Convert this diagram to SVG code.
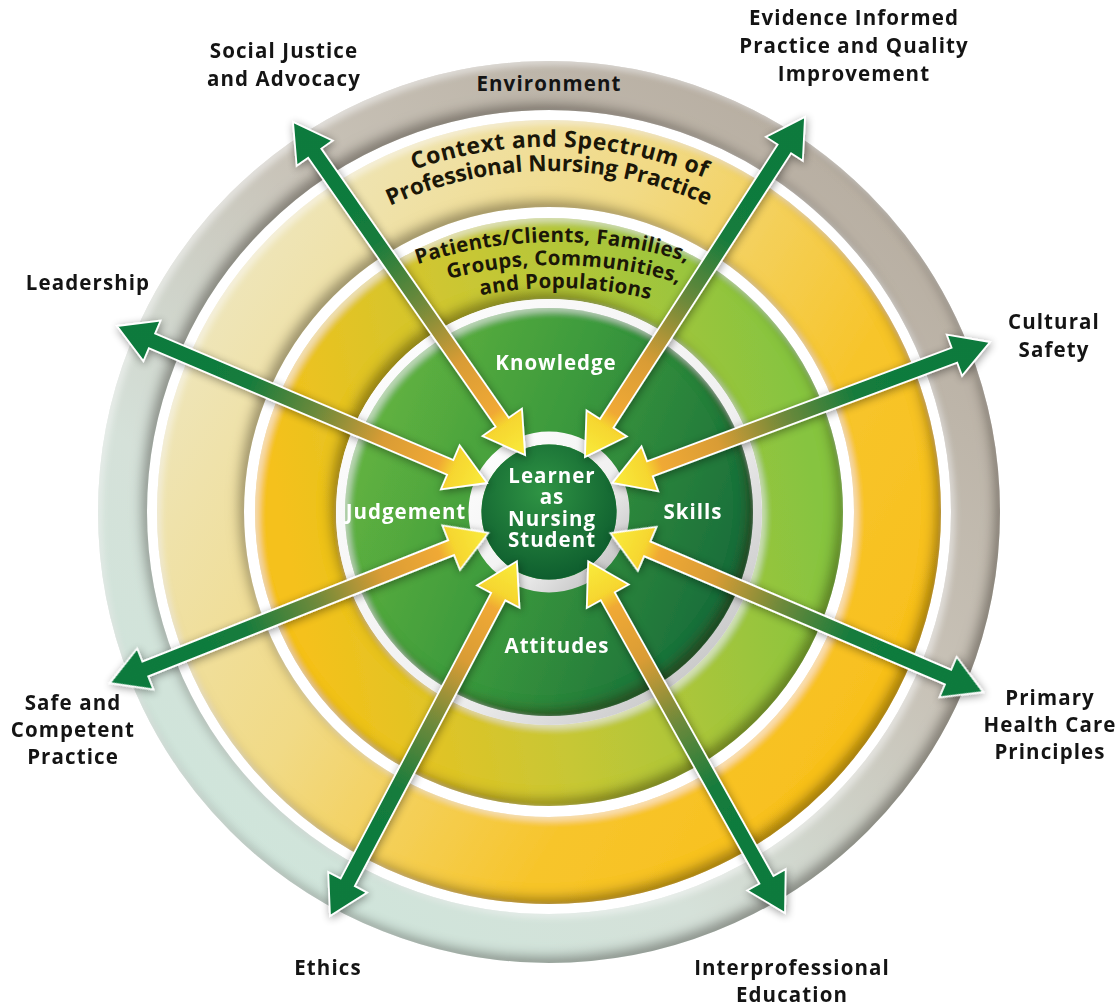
<svg xmlns="http://www.w3.org/2000/svg" width="1120" height="1007" viewBox="0 0 1120 1007">
<style>
.lbl{font-family:"Open Sans","Liberation Sans",sans-serif;font-weight:700;font-size:20.5px;letter-spacing:1.1px;fill:#141414;text-anchor:middle}
.wh{fill:#ffffff;letter-spacing:1px}
.ctx1{font-size:23px;fill:#1b1708;letter-spacing:0.5px}
.ctx2{font-size:22.5px;fill:#1b1708;letter-spacing:-0.1px}
.pat{font-size:20.5px;fill:#1b1708;letter-spacing:0.3px}
.arrow{fill:url(#arrowGrad);stroke:#ffffff;stroke-width:1.8;stroke-linejoin:miter}
</style>
<defs>
  <linearGradient id="envGrad" gradientUnits="userSpaceOnUse" x1="900" y1="90" x2="200" y2="930">
    <stop offset="0" stop-color="#b3a99c"/>
    <stop offset="0.4" stop-color="#c8c2b7"/>
    <stop offset="0.7" stop-color="#d5e1d9"/>
    <stop offset="1" stop-color="#cde6db"/>
  </linearGradient>
  <linearGradient id="ctxGrad" gradientUnits="userSpaceOnUse" x1="190" y1="300" x2="860" y2="720">
    <stop offset="0" stop-color="#eee6bd"/>
    <stop offset="0.4" stop-color="#f1da86"/>
    <stop offset="0.75" stop-color="#f7c52c"/>
    <stop offset="1" stop-color="#f8c01e"/>
  </linearGradient>
  <linearGradient id="patGrad" gradientUnits="userSpaceOnUse" x1="290" y1="560" x2="810" y2="460">
    <stop offset="0" stop-color="#f5c11a"/>
    <stop offset="0.45" stop-color="#c7c735"/>
    <stop offset="1" stop-color="#86c440"/>
  </linearGradient>
  <linearGradient id="coreGrad" gradientUnits="userSpaceOnUse" x1="345" y1="430" x2="753" y2="590">
    <stop offset="0" stop-color="#66b540"/>
    <stop offset="0.45" stop-color="#3c9a3c"/>
    <stop offset="1" stop-color="#15683a"/>
  </linearGradient>
  <radialGradient id="centerGrad" cx="0.45" cy="0.35" r="0.7">
    <stop offset="0" stop-color="#2f9444"/>
    <stop offset="1" stop-color="#0c5a2d"/>
  </radialGradient>
  <linearGradient id="rimGrad" x1="0" y1="0" x2="1" y2="1">
    <stop offset="0" stop-color="#ffffff"/>
    <stop offset="0.6" stop-color="#f0f0f0"/>
    <stop offset="1" stop-color="#b8b8b8"/>
  </linearGradient>
  <linearGradient id="arrowGrad" x1="0" y1="0" x2="1" y2="0">
    <stop offset="0" stop-color="#0b7a3e"/>
    <stop offset="0.35" stop-color="#137b3c"/>
    <stop offset="0.55" stop-color="#718a3a"/>
    <stop offset="0.72" stop-color="#d99c35"/>
    <stop offset="0.87" stop-color="#f0a934"/>
    <stop offset="0.91" stop-color="#f6d62f"/>
    <stop offset="1" stop-color="#f9ec3c"/>
  </linearGradient>
  <filter id="inset" x="-10%" y="-10%" width="120%" height="120%">
    <feComponentTransfer in="SourceAlpha" result="inv"><feFuncA type="table" tableValues="1 0"/></feComponentTransfer>
    <feOffset in="inv" dx="-6" dy="-7" result="off"/>
    <feGaussianBlur in="off" stdDeviation="6" result="blur"/>
    <feFlood flood-color="#2a1c00" flood-opacity="0.62"/>
    <feComposite operator="in" in2="blur" result="sh"/>
    <feComposite operator="in" in="sh" in2="SourceAlpha" result="inner"/>
    <feOffset in="inv" dx="4" dy="4" result="off2"/>
    <feGaussianBlur in="off2" stdDeviation="3" result="blur2"/>
    <feFlood flood-color="#ffffff" flood-opacity="0.45"/>
    <feComposite operator="in" in2="blur2" result="hl"/>
    <feComposite operator="in" in="hl" in2="SourceAlpha" result="hi"/>
    <feMerge><feMergeNode in="SourceGraphic"/><feMergeNode in="inner"/><feMergeNode in="hi"/></feMerge>
  </filter>
  <filter id="ashadow" x="-10%" y="-10%" width="120%" height="120%">
    <feGaussianBlur in="SourceAlpha" stdDeviation="4"/>
    <feOffset dx="1" dy="2"/>
    <feComponentTransfer><feFuncA type="linear" slope="0.4"/></feComponentTransfer>
    <feMerge><feMergeNode/><feMergeNode in="SourceGraphic"/></feMerge>
  </filter>
  <path id="c1" d="M288.0,241.8 A406,406 0 0 1 810.0,241.8" transform="rotate(1.6 549 550)"/>
  <path id="c2" d="M305.3,259.7 A379,379 0 0 1 792.7,259.7"/>
  <path id="p1" d="M335.5,301.1 A441,441 0 0 1 776.5,301.1" transform="rotate(-0.5 556 683)"/>
  <path id="p2" d="M347,321 A418,418 0 0 1 765,321" transform="rotate(1.1 556 683)"/>
  <path id="p3" d="M358.5,340.9 A395,395 0 0 1 753.5,340.9" transform="rotate(1.4 556 683)"/>
</defs>

<rect width="1120" height="1007" fill="#ffffff"/>

<g id="environment">
  <circle cx="549" cy="512" r="426.5" fill="none" stroke="url(#envGrad)" stroke-width="49" filter="url(#inset)"/>
  <text class="lbl" x="549" y="91">Environment</text>
</g>

<g id="context">
  <circle cx="549" cy="512" r="348.5" fill="none" stroke="url(#ctxGrad)" stroke-width="87" filter="url(#inset)"/>
  <text class="lbl ctx1"><textPath href="#c1" startOffset="50%">Context and Spectrum of</textPath></text>
  <text class="lbl ctx2"><textPath href="#c2" startOffset="50%">Professional Nursing Practice</textPath></text>
</g>

<g id="patients">
  <circle cx="549" cy="512" r="253.5" fill="none" stroke="url(#patGrad)" stroke-width="81" filter="url(#inset)"/>
  <text class="lbl pat"><textPath href="#p1" startOffset="50%">Patients/Clients, Families,</textPath></text>
  <text class="lbl pat"><textPath href="#p2" startOffset="50%">Groups, Communities,</textPath></text>
  <text class="lbl pat"><textPath href="#p3" startOffset="50%">and Populations</textPath></text>
</g>

<g id="core">
  <circle cx="549" cy="512" r="208.5" fill="none" stroke="url(#rimGrad)" stroke-width="9"/>
  <circle cx="549" cy="512" r="204" fill="url(#coreGrad)" filter="url(#inset)"/>
</g>

<g id="learner-disc">
  <circle cx="549" cy="512" r="74" fill="none" stroke="url(#rimGrad)" stroke-width="13"/>
  <circle cx="549" cy="512" r="67.5" fill="url(#centerGrad)"/>
</g>

<g id="connectors" filter="url(#ashadow)">
  <path class="arrow" transform="translate(293,122) rotate(55.13)" d="M0,0 L38,-22 L38,-8 L366,-8 L366,-24 L406,0 L366,24 L366,8 L38,8 L38,22 Z"/>
  <path class="arrow" transform="translate(805,117) rotate(122.91)" d="M0,0 L38,-22 L38,-8 L365,-8 L365,-24 L405,0 L365,24 L365,8 L38,8 L38,22 Z"/>
  <path class="arrow" transform="translate(117,326) rotate(22.99)" d="M0,0 L38,-22 L38,-8 L362,-8 L362,-24 L402,0 L362,24 L362,8 L38,8 L38,22 Z"/>
  <path class="arrow" transform="translate(990,342) rotate(159.54)" d="M0,0 L38,-22 L38,-8 L363,-8 L363,-24 L403,0 L363,24 L363,8 L38,8 L38,22 Z"/>
  <path class="arrow" transform="translate(110,683) rotate(-21.64)" d="M0,0 L38,-22 L38,-8 L367,-8 L367,-24 L407,0 L367,24 L367,8 L38,8 L38,22 Z"/>
  <path class="arrow" transform="translate(983,692) rotate(-156.91)" d="M0,0 L38,-22 L38,-8 L365,-8 L365,-24 L405,0 L365,24 L365,8 L38,8 L38,22 Z"/>
  <path class="arrow" transform="translate(330,916) rotate(-62.22)" d="M0,0 L38,-22 L38,-8 L361,-8 L361,-24 L401,0 L361,24 L361,8 L38,8 L38,22 Z"/>
  <path class="arrow" transform="translate(785,913) rotate(-119.23)" d="M0,0 L38,-22 L38,-8 L363,-8 L363,-24 L403,0 L363,24 L363,8 L38,8 L38,22 Z"/>
</g>

<g id="core-labels">
  <text class="lbl wh" x="556" y="370">Knowledge</text>
  <text class="lbl wh" x="406" y="519">Judgement</text>
  <text class="lbl wh" x="693" y="519">Skills</text>
  <text class="lbl wh" x="557" y="653">Attitudes</text>
</g>

<g id="learner">
  <text class="lbl wh" font-size="19" x="552" y="483">Learner</text>
  <text class="lbl wh" font-size="19" x="552" y="504">as</text>
  <text class="lbl wh" font-size="19" x="552" y="526">Nursing</text>
  <text class="lbl wh" font-size="19" x="552" y="547">Student</text>
</g>

<g id="social-justice"><text class="lbl" x="284" y="58">Social Justice</text><text class="lbl" x="284" y="86">and Advocacy</text></g>
<g id="evidence"><text class="lbl" x="854" y="25">Evidence Informed</text><text class="lbl" x="854" y="53">Practice and Quality</text><text class="lbl" x="854" y="81">Improvement</text></g>
<g id="leadership"><text class="lbl" x="88" y="290">Leadership</text></g>
<g id="cultural-safety"><text class="lbl" x="1054" y="329">Cultural</text><text class="lbl" x="1054" y="357">Safety</text></g>
<g id="primary-health"><text class="lbl" x="1050" y="705">Primary</text><text class="lbl" x="1050" y="732">Health Care</text><text class="lbl" x="1050" y="759">Principles</text></g>
<g id="safe-competent"><text class="lbl" x="73" y="710">Safe and</text><text class="lbl" x="73" y="737">Competent</text><text class="lbl" x="73" y="764">Practice</text></g>
<g id="ethics"><text class="lbl" x="328" y="975">Ethics</text></g>
<g id="interprofessional"><text class="lbl" x="792" y="975">Interprofessional</text><text class="lbl" x="792" y="1002">Education</text></g>
</svg>
